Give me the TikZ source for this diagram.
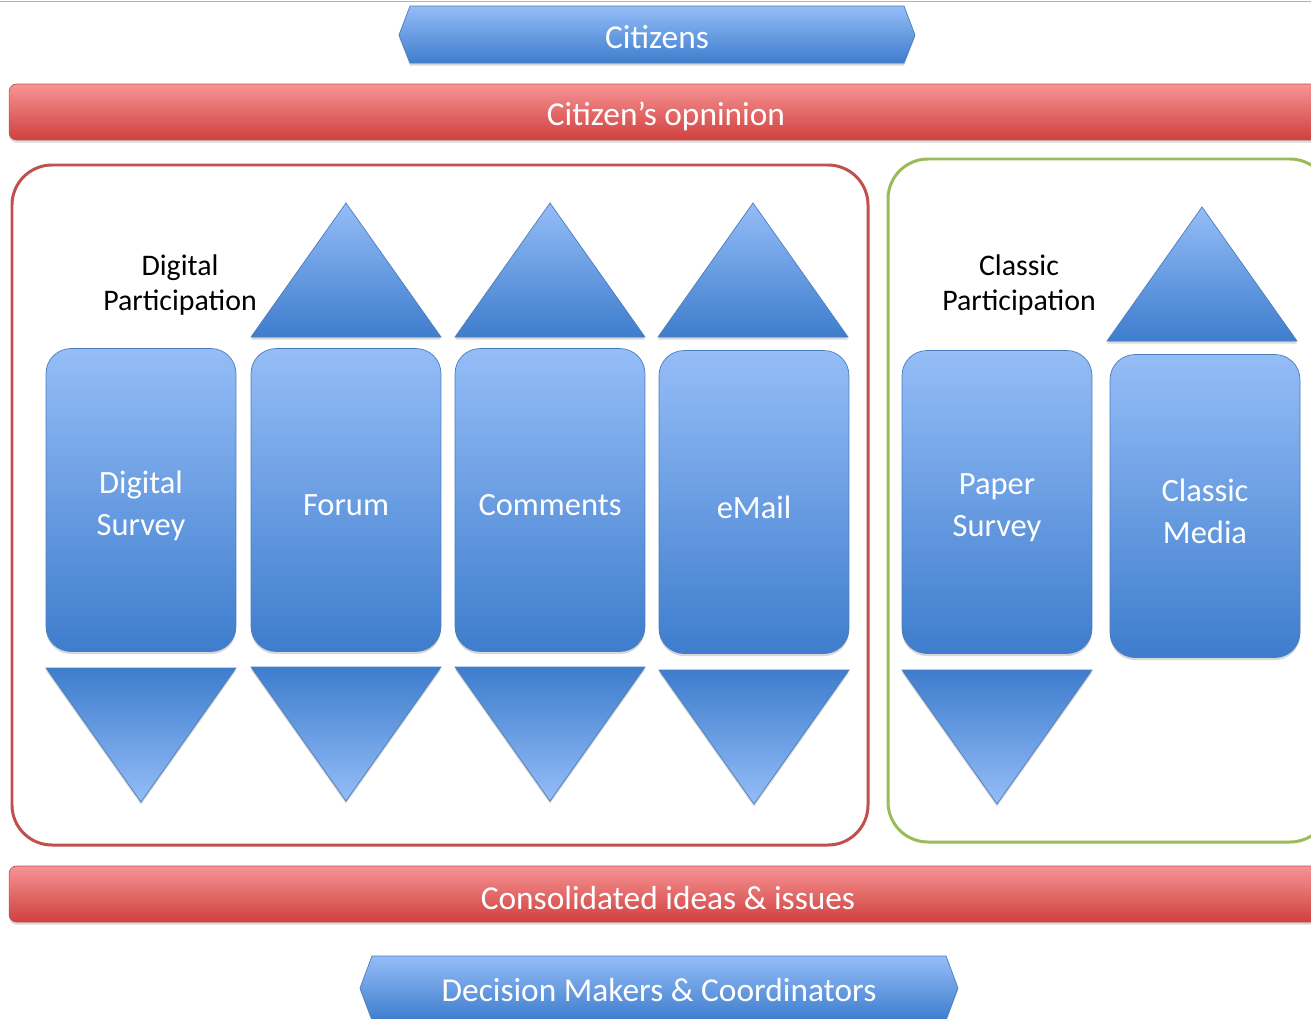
\documentclass[tikz,border=0pt]{standalone}
\usepackage{fontspec}
\setmainfont{Carlito}
\usetikzlibrary{shadows}
\definecolor{bluetop}{RGB}{149,189,247}
\definecolor{bluebot}{RGB}{62,125,205}
\definecolor{blueline}{RGB}{74,126,187}
\definecolor{redtop}{RGB}{246,148,148}
\definecolor{redbot}{RGB}{207,64,62}
\definecolor{redline}{RGB}{192,80,77}
\definecolor{greenline}{RGB}{155,187,89}

\begin{document}
\begin{tikzpicture}[x=0.02cm,y=-0.02cm,
  soft/.style={drop shadow={shadow xshift=0pt,shadow yshift=-1.5pt,opacity=0.3}},
  boxtxt/.style={text=white, align=center, yshift=-0.11cm,
    font=\fontsize{18.5}{23.8}\selectfont},
  box/.style={draw=blueline, top color=bluetop, bottom color=bluebot, soft,
    rounded corners=0.5cm, minimum width=3.8cm, minimum height=6.06cm,
    label={[boxtxt]center:{#1}}},
  bartxt/.style={text=white, yshift=-0.08cm, font=\fontsize{19}{23}\selectfont},
  bar/.style={draw=redline, top color=redtop, bottom color=redbot, soft,
    rounded corners=0.15cm, minimum height=1.12cm,
    label={[bartxt]center:{#1}}},
  uptri/.style={draw=blueline, top color=bluetop, bottom color=bluebot, soft},
  downtri/.style={draw=blueline, top color=bluebot, bottom color=bluetop, soft},
  hexa/.style={draw=blueline, top color=bluetop, bottom color=bluebot, soft},
  lbl/.style={align=center, font=\fontsize{17}{20.4}\selectfont},
]
\useasboundingbox (0,0) rectangle (1311,1018);
\fill[white] (0,0) rectangle (1311,1018);
\draw[gray!60] (0,1) -- (1311,1);

% top and bottom actors
\path[hexa] (399,35) -- (410,6) -- (904,6) -- (915,35) -- (904,63) -- (410,63) -- cycle;
\node[text=white, font=\fontsize{19}{23}\selectfont] (citizens) at (657,37) {Citizens};
\path[hexa] (360,988) -- (372,956) -- (946,956) -- (958,988) -- (946,1020) -- (372,1020) -- cycle;
\node[text=white, font=\fontsize{19}{23}\selectfont] (deciders) at (659,990) {Decision Makers \& Coordinators};

% red bars
\node[bar={Citizen’s opninion}, minimum width=26.28cm] (opinion) at (666,112) {};
\node[bar={Consolidated ideas \& issues}, minimum width=26.36cm] (ideas) at (668,894) {};

% frames
\draw[redline, line width=1.7pt, rounded corners=0.8cm] (12,165) rectangle (868,845);
\draw[greenline, line width=1.7pt, rounded corners=0.8cm] (888,159) rectangle (1330,842);

\node[lbl] (digital) at (180,285) {Digital\\Participation};
\node[lbl] (classic) at (1019,285) {Classic\\Participation};

% channels
\node[box={Digital\\Survey}] (dsurvey) at (141,500) {};
\node[box=Forum] (forum) at (346,500) {};
\node[box=Comments] (comments) at (550,500) {};
\node[box=eMail] (email) at (754,502) {};
\node[box={Paper\\Survey}] (psurvey) at (997,502) {};
\node[box={Classic\\Media}] (cmedia) at (1205,506) {};

\foreach \x/\yb in {346/337,550/337,753/337,1202/341}
  \path[uptri] (\x-95,\yb) -- (\x,\yb-134) -- (\x+95,\yb) -- cycle;
\foreach \x/\yt in {141/668,346/667,550/667,754/670,997/670}
  \path[downtri] (\x-95,\yt) -- (\x,\yt+134) -- (\x+95,\yt) -- cycle;
\end{tikzpicture}
\end{document}
